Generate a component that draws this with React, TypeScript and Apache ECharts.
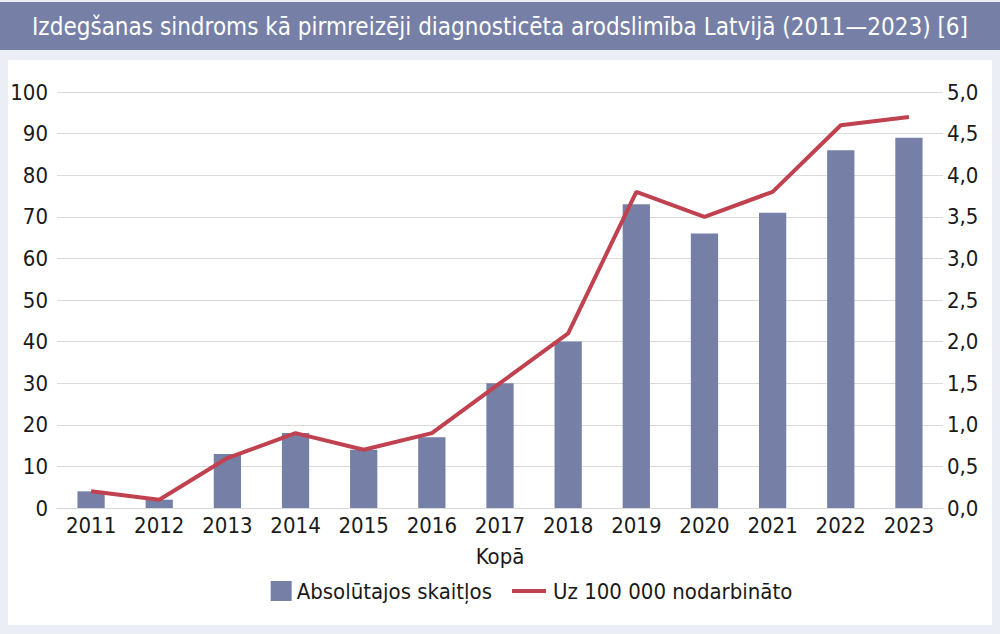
import React, { useEffect, useRef } from "react";
import * as echarts from "echarts";

const years = ["2011","2012","2013","2014","2015","2016","2017","2018","2019","2020","2021","2022","2023"];
const absolute = [4, 2, 13, 18, 14, 17, 30, 40, 73, 66, 71, 86, 89];
const per100k = [0.2, 0.1, 0.6, 0.9, 0.7, 0.9, 1.5, 2.1, 3.8, 3.5, 3.8, 4.6, 4.7];
const titleText = "Izdegšanas sindroms kā pirmreizēji diagnosticēta arodslimība Latvijā (2011—2023) [6]";
const barName = "Absolūtajos skaitļos";
const lineName = "Uz 100 000 nodarbināto";
const xName = "Kopā";

const FONT = "'Liberation Sans Narrow', 'DejaVu Sans Condensed', 'Liberation Sans', sans-serif";
const TXT = "#1a1a1a";

export default function App() {
  const ref = useRef<HTMLDivElement>(null);
  useEffect(() => {
    document.body.style.margin = "0";
    const chart = echarts.init(ref.current!, null, { renderer: "svg" });
    chart.setOption({
      animation: false,
      backgroundColor: "#eceef5",
      textStyle: { fontFamily: FONT },
      graphic: [
        { type: "rect", z: -10, shape: { x: 0, y: 2, width: 1000, height: 48 }, style: { fill: "#7680a7" } },
        { type: "rect", z: -10, shape: { x: 8, y: 60, width: 984, height: 565 }, style: { fill: "#ffffff" } },
      ],
      title: {
        text: titleText,
        left: "center",
        top: 10,
        textStyle: { color: "#ffffff", fontSize: 24, fontWeight: "normal", fontFamily: FONT },
      },
      legend: [
        {
          data: [{ name: barName, icon: "rect" }],
          right: 508,
          top: 580,
          padding: 0,
          itemWidth: 21,
          itemHeight: 20,
          textStyle: { fontSize: 22, color: TXT, fontFamily: FONT },
        },
        {
          data: [{ name: lineName, icon: "rect" }],
          left: 512,
          top: 580,
          padding: 0,
          itemWidth: 34,
          itemHeight: 4,
          textStyle: { fontSize: 22, color: TXT, fontFamily: FONT, padding: [0, 0, 0, 2] },
        },
      ],
      grid: { left: 57, right: 57, top: 92, bottom: 126 },
      xAxis: {
        type: "category",
        data: years,
        name: xName,
        nameLocation: "middle",
        nameGap: 37,
        nameTextStyle: { fontSize: 22, color: TXT, fontFamily: FONT },
        axisTick: { show: false },
        axisLine: { lineStyle: { color: "#d9d9d9", width: 1 } },
        axisLabel: { fontSize: 22, color: TXT, margin: 6, fontFamily: FONT },
      },
      yAxis: [
        {
          type: "value",
          min: 0,
          max: 100,
          interval: 10,
          axisLabel: { fontSize: 22, color: TXT, margin: 9, fontFamily: FONT },
          splitLine: { lineStyle: { color: "#d9d9d9" } },
          axisLine: { show: false },
          axisTick: { show: false },
        },
        {
          type: "value",
          min: 0,
          max: 5,
          interval: 0.5,
          axisLabel: {
            fontSize: 22,
            color: TXT,
            margin: 4,
            fontFamily: FONT,
            formatter: (v: number) => v.toFixed(1).replace(".", ","),
          },
          splitLine: { show: false },
          axisLine: { show: false },
          axisTick: { show: false },
        },
      ],
      series: [
        {
          name: barName,
          type: "bar",
          data: absolute,
          barWidth: "40%",
          itemStyle: { color: "#7680a7" },
        },
        {
          name: lineName,
          type: "line",
          yAxisIndex: 1,
          data: per100k,
          symbol: "none",
          lineStyle: { color: "#c0414f", width: 4 },
          itemStyle: { color: "#c0414f" },
        },
      ],
    });
    return () => chart.dispose();
  }, []);
  return <div ref={ref} style={{ position: "fixed", left: 0, top: 0, width: 1000, height: 634 }} />;
}
